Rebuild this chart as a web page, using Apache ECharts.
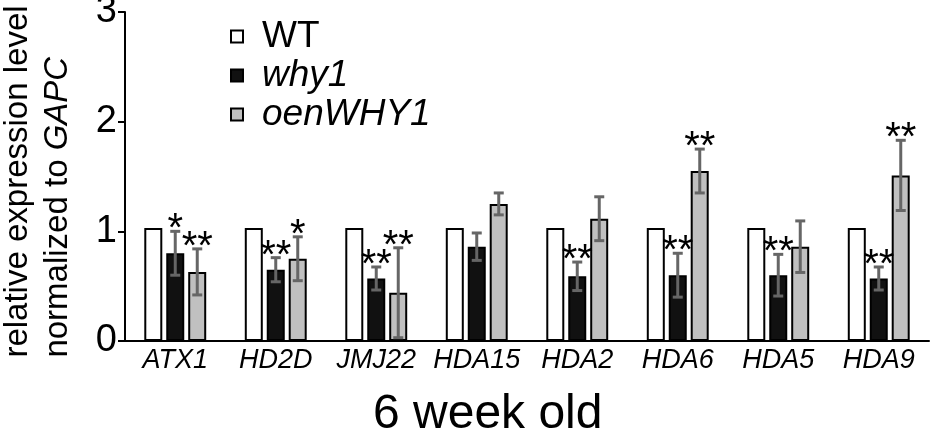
<!DOCTYPE html>
<html>
<head>
<meta charset="utf-8">
<title>6 week old</title>
<script src="https://cdn.jsdelivr.net/npm/echarts@6/dist/echarts.min.js"></script>
<style>
  html, body { margin: 0; padding: 0; background: #fff; }
  #chart { width: 934px; height: 438px; }
</style>
</head>
<body>
<div id="chart"></div>
<script>
// values (relative expression, normalized to GAPC)
const genes = ['ATX1', 'HD2D', 'JMJ22', 'HDA15', 'HDA2', 'HDA6', 'HDA5', 'HDA9'];
const wtMean = [1.03, 1.03, 1.03, 1.03, 1.03, 1.03, 1.03, 1.03];
const why1Mean = [0.80, 0.65, 0.57, 0.86, 0.59, 0.60, 0.60, 0.57];
const why1Err = [0.20, 0.11, 0.105, 0.125, 0.13, 0.20, 0.19, 0.105];
const why1Sig = ['*', '**', '**', '', '**', '**', '**', '**'];
const oeMean = [0.63, 0.75, 0.44, 1.25, 1.115, 1.55, 0.86, 1.51];
const oeErr = [0.21, 0.20, 0.41, 0.10, 0.20, 0.20, 0.235, 0.32];
const oeSig = ['**', '*', '**', '', '', '**', '', '**'];

const FONT = '"Liberation Sans", Arial, sans-serif';

const chart = echarts.init(document.getElementById('chart'), null, { renderer: 'canvas' });

// error bar + asterisks, drawn on top of the bar at offset `shift`
const errorRender = (shift, sigs) => (params, api) => {
  const i = api.value(0);
  const m = api.value(1);
  const e = api.value(2);
  const top = api.coord([i, m + e]);
  const bot = api.coord([i, m - e]);
  const x = top[0] + shift;
  const cap = 5;
  const ls = { stroke: '#666666', lineWidth: 3 };
  const children = [
    { type: 'line', shape: { x1: x, y1: top[1], x2: x, y2: bot[1] }, style: ls },
    { type: 'line', shape: { x1: x - cap, y1: top[1], x2: x + cap, y2: top[1] }, style: ls },
    { type: 'line', shape: { x1: x - cap, y1: bot[1], x2: x + cap, y2: bot[1] }, style: ls }
  ];
  const s = sigs[params.dataIndex];
  if (s) {
    children.push({
      type: 'text',
      x: x,
      y: top[1] - 1,
      style: { text: s, align: 'center', verticalAlign: 'middle', font: '40px ' + FONT, fill: '#000' }
    });
  }
  return { type: 'group', children };
};

const barBase = {
  type: 'bar',
  barWidth: 18,
  barGap: '22%',
  silent: true
};

const option = {
  animation: false,
  backgroundColor: '#fff',
  grid: { left: 125, right: 5, top: 12, bottom: 97, containLabel: false, outerBoundsMode: 'none' },
  title: {
    text: '6 week old',
    left: 373,
    top: 391,
    padding: 0,
    textStyle: { fontFamily: FONT, fontSize: 48, fontWeight: 'normal', color: '#000' }
  },
  legend: {
    orient: 'vertical',
    left: 225,
    top: 13,
    itemWidth: 12,
    itemHeight: 12,
    itemGap: 2,
    icon: 'rect',
    data: ['WT', 'why1', 'oenWHY1'],
    formatter: name => (name === 'WT' ? name : '{i|' + name + '}'),
    textStyle: {
      fontFamily: FONT,
      fontSize: 37,
      color: '#000',
      padding: [0, 0, 0, 14],
      rich: { i: { fontFamily: FONT, fontSize: 37, fontStyle: 'italic', color: '#000' } }
    }
  },
  xAxis: {
    type: 'category',
    data: genes,
    axisLine: { show: true, lineStyle: { color: '#000', width: 2 } },
    axisTick: { show: false },
    splitLine: { show: false },
    axisLabel: {
      interval: 0,
      margin: 6,
      fontFamily: FONT,
      fontSize: 27,
      fontStyle: 'italic',
      color: '#000'
    }
  },
  yAxis: {
    type: 'value',
    min: 0,
    max: 3,
    interval: 1,
    name: '{a|relative expression level}\n{a|normalized to }{g|GAPC}',
    nameLocation: 'middle',
    nameGap: 47,
    nameTextStyle: {
      fontFamily: FONT,
      fontSize: 33,
      color: '#000',
      lineHeight: 40,
      padding: [0, 10, 0, 0],
      rich: {
        a: { fontFamily: FONT, fontSize: 33, color: '#000', align: 'left', lineHeight: 40 },
        g: { fontFamily: FONT, fontSize: 33, color: '#000', fontStyle: 'italic', align: 'left', lineHeight: 40 }
      }
    },
    axisLine: { show: true, lineStyle: { color: '#000', width: 2 } },
    axisTick: { show: true, length: 7, lineStyle: { color: '#000', width: 2 } },
    splitLine: { show: false },
    axisLabel: { margin: 8, fontFamily: FONT, fontSize: 38, color: '#000' }
  },
  series: [
    Object.assign({}, barBase, {
      name: 'WT',
      data: wtMean,
      itemStyle: { color: '#fff', borderColor: '#000', borderWidth: 2 }
    }),
    Object.assign({}, barBase, {
      name: 'why1',
      data: why1Mean,
      itemStyle: { color: '#111', borderColor: '#000', borderWidth: 2 }
    }),
    Object.assign({}, barBase, {
      name: 'oenWHY1',
      data: oeMean,
      itemStyle: { color: '#c0c0c0', borderColor: '#000', borderWidth: 2 }
    }),
    {
      type: 'custom',
      name: 'why1 err',
      silent: true,
      z: 5,
      renderItem: errorRender(0, why1Sig),
      encode: { x: 0, y: 1 },
      data: genes.map((g, i) => [i, why1Mean[i], why1Err[i]])
    },
    {
      type: 'custom',
      name: 'oenWHY1 err',
      silent: true,
      z: 5,
      renderItem: errorRender(22, oeSig),
      encode: { x: 0, y: 1 },
      data: genes.map((g, i) => [i, oeMean[i], oeErr[i]])
    }
  ]
};

chart.setOption(option);
</script>
</body>
</html>
